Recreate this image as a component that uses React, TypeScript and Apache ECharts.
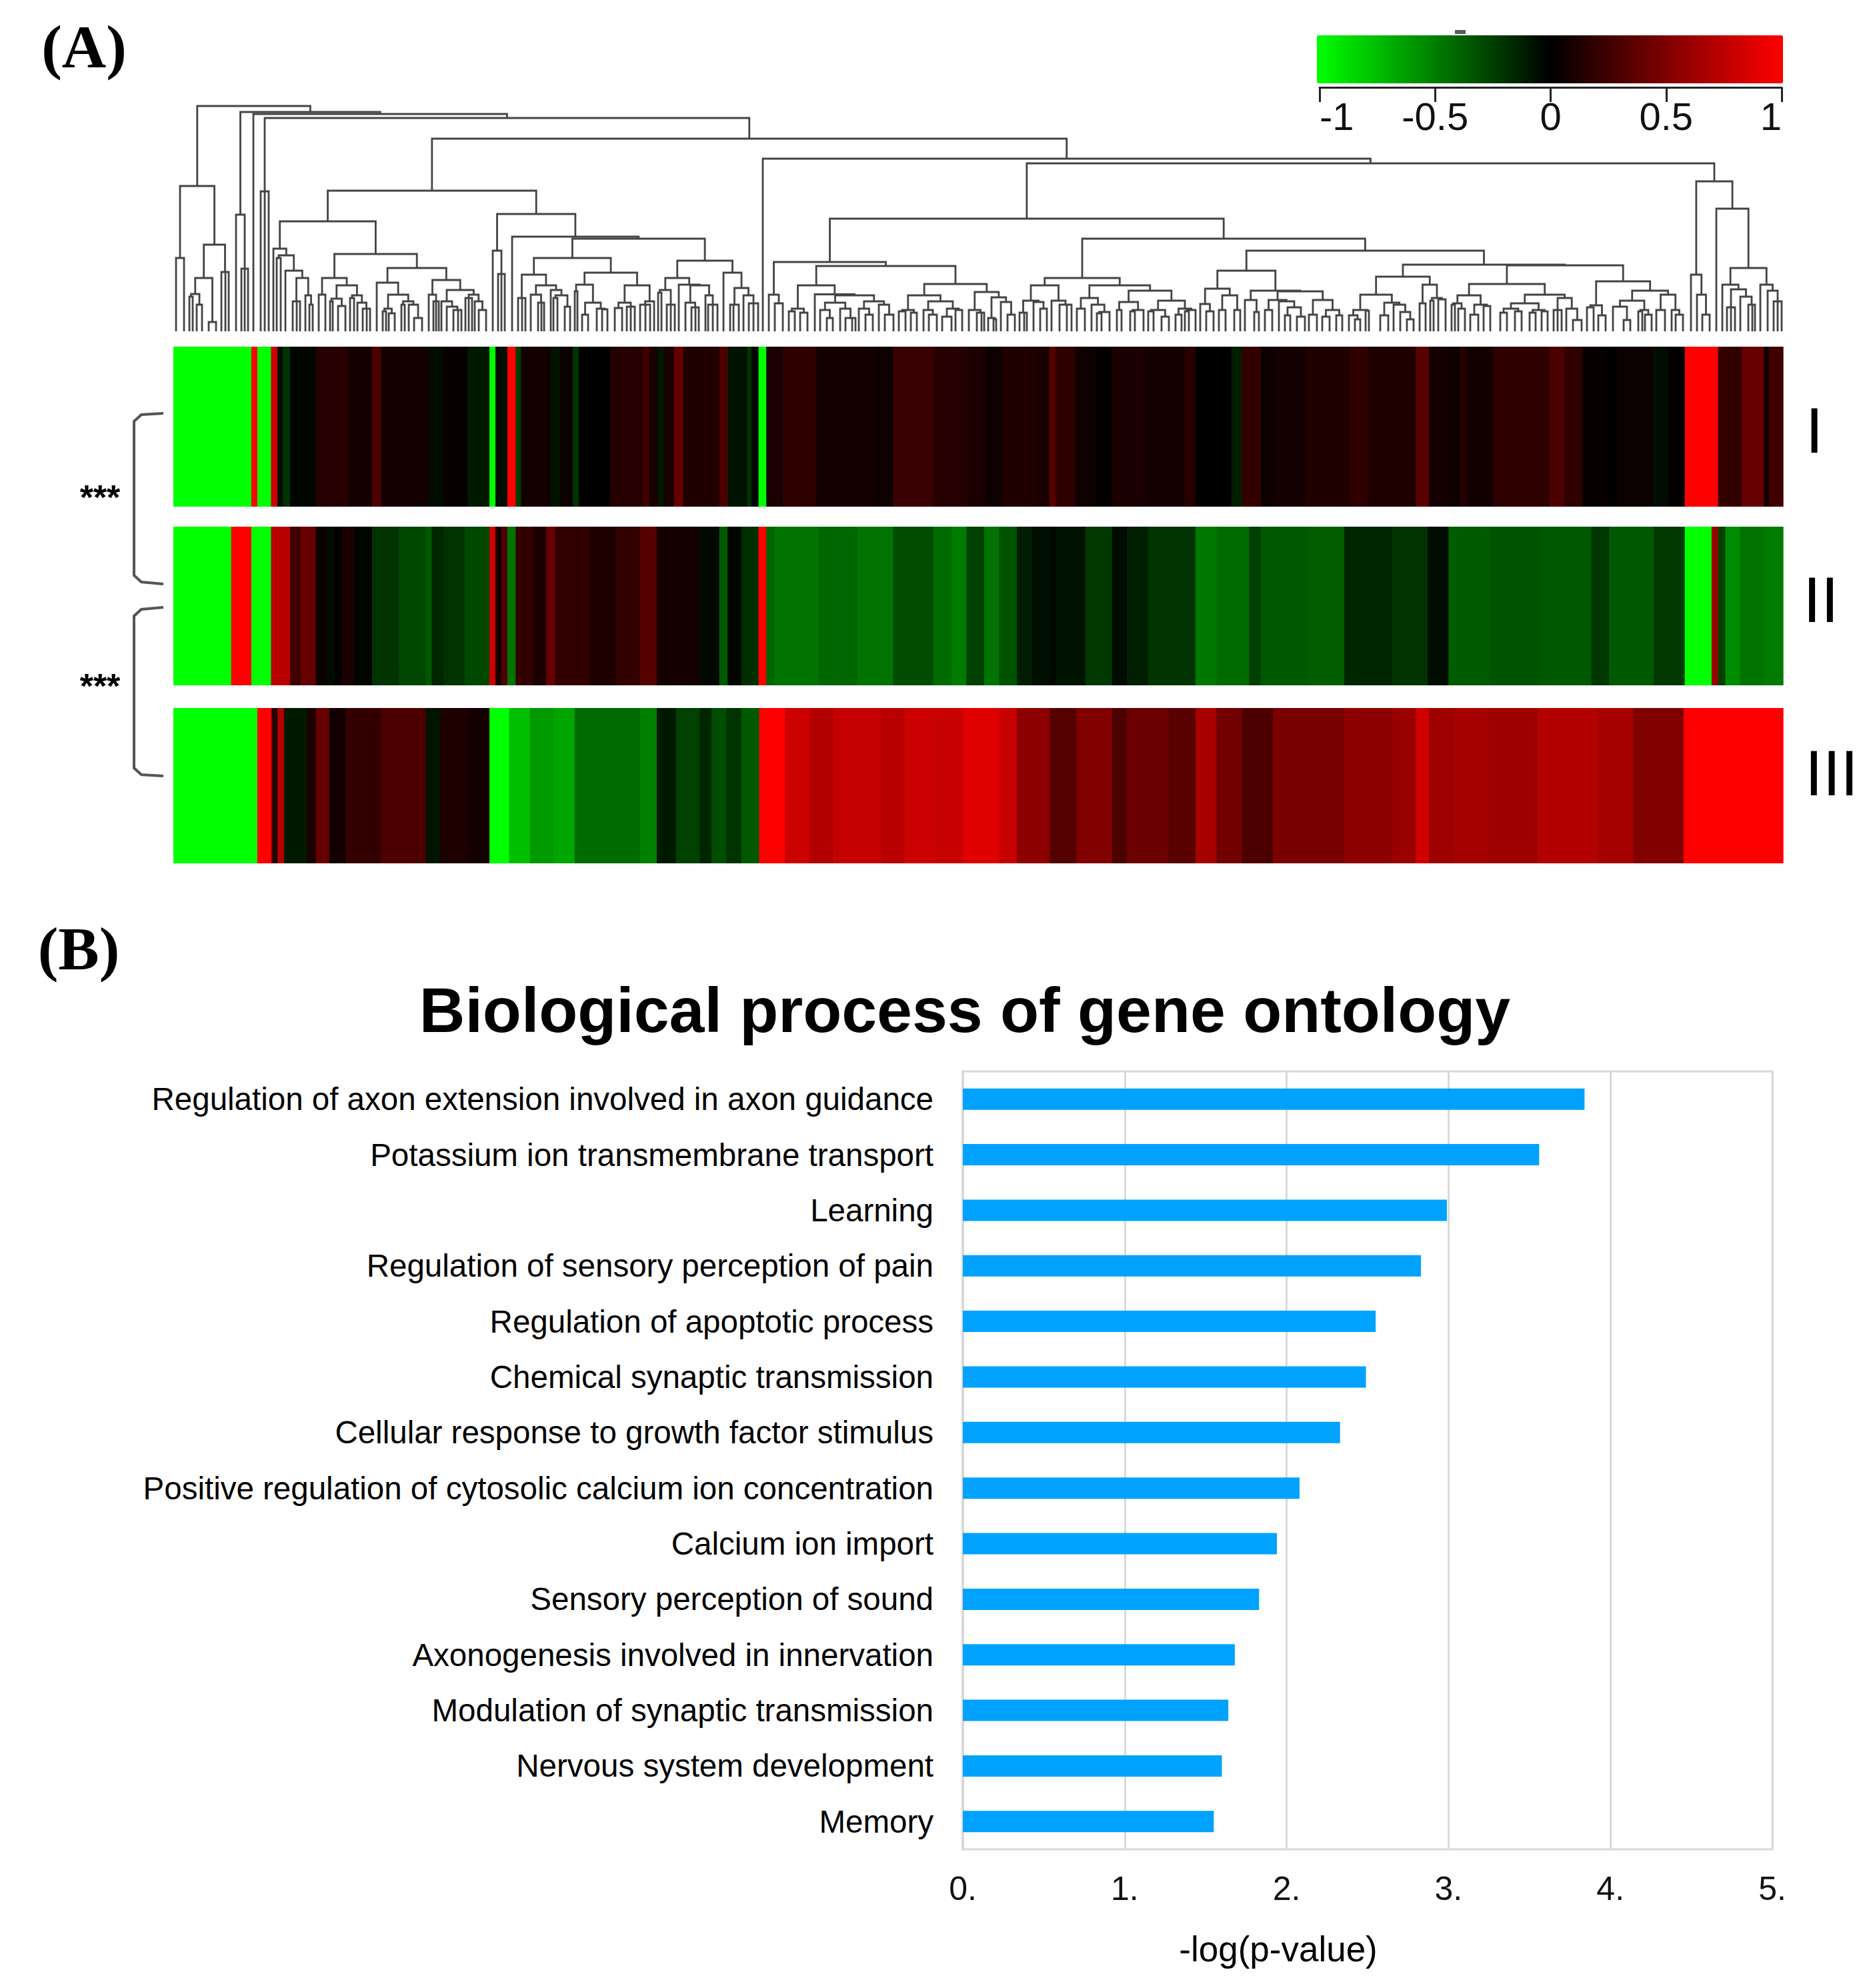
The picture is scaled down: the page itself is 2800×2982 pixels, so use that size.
import React, { useEffect, useRef } from "react";
import * as echarts from "echarts";

const WIDTH = 2800;
const HEIGHT = 2982;
const SANS = '"Liberation Sans", Arial, sans-serif';

// ---- Panel B ----
const processes = [
  "Regulation of axon extension involved in axon guidance",
  "Potassium ion transmembrane transport",
  "Learning",
  "Regulation of sensory perception of pain",
  "Regulation of apoptotic process",
  "Chemical synaptic transmission",
  "Cellular response to growth factor stimulus",
  "Positive regulation of cytosolic calcium ion concentration",
  "Calcium ion import",
  "Sensory perception of sound",
  "Axonogenesis involved in innervation",
  "Modulation of synaptic transmission",
  "Nervous system development",
  "Memory",
];
const logP = [3.84, 3.56, 2.99, 2.83, 2.55, 2.49, 2.33, 2.08, 1.94, 1.83, 1.68, 1.64, 1.6, 1.55];

// ---- Panel A heat map: [end of run on the gene axis, value]; each run starts where the last ended ----
const heatStart = 291;
const heatEnd = 2995;
const rowI = [
  [422,-1],[432,1],[455,-1],[466,.8],[475,-.05],[487,-.2],[530,-.02],[585,.15],[625,.08],[640,.3],[720,.08],[745,-.05],[785,.03],[822,-.1],[832,-1],[852,-.05],[866,1],[875,-.25],[925,.08],[940,-.08],[962,.05],[972,-.2],[1025,0],[1080,.15],[1090,.25],[1105,.1],[1115,-.1],[1132,.1],[1147,.4],[1208,.13],[1222,.3],[1255,-.07],[1262,-.2],[1274,-.03],[1287,-1],[1315,.1],[1370,.18],[1470,.08],[1500,.05],[1568,.22],
  [1623,.15],[1656,.1],[1683,.05],[1738,.13],[1763,.1],[1773,.35],[1806,.18],[1838,.06],[1868,.02],[1928,.1],[1988,.08],[2008,.15],[2068,0],[2086,-.12],[2118,.2],[2140,.05],[2193,.08],[2268,.13],[2298,.18],[2378,.12],[2400,.35],[2433,.08],[2453,.05],[2463,.15],[2508,.07],[2603,.18],[2628,.3],[2658,.18],[2703,.03],[2716,0],[2776,.05],[2803,-.05],[2830,.02],[2886,1],[2926,.2],[2963,.4],[2971,.05],[2995,.25],
];
const rowII = [
  [388,-1],[422,1],[455,-1],[487,.72],[505,.25],[530,.4],[550,.05],[562,-.05],[575,.02],[595,.1],[625,-.02],[670,-.2],[715,-.28],[725,-.35],[745,-.15],[780,-.2],[822,-.28],[832,.8],[842,.1],[852,.3],[866,-.45],[895,.2],[917,.1],[932,.4],[990,.2],[1035,.12],[1075,.2],[1103,.33],[1175,.08],[1208,-.03],[1222,-.35],[1245,-.02],[1274,-.18],[1287,1],[1300,-.4],[1375,-.45],[1440,-.4],[1500,-.45],[1568,-.3],
  [1598,-.42],[1623,-.48],[1653,-.25],[1678,-.45],[1708,-.33],[1733,-.12],[1763,-.06],[1773,-.03],[1823,-.07],[1868,-.22],[1893,-.05],[1928,-.12],[2008,-.2],[2043,-.47],[2098,-.42],[2118,-.25],[2198,-.35],[2258,-.37],[2338,-.15],[2398,-.2],[2433,-.05],[2503,-.36],[2588,-.33],[2673,-.35],[2703,-.22],[2778,-.35],[2830,-.22],[2875,-1],[2886,.6],[2898,-.25],[2923,-.55],[2963,-.45],[2995,-.48],
];
const rowIII = [
  [432,-1],[456,1],[466,.15],[477,.7],[515,-.1],[530,.1],[553,.4],[580,.08],[640,.2],[715,.3],[740,-.08],[785,.12],[822,.08],[855,-1],[890,-.75],[930,-.6],[965,-.65],[1075,-.42],[1103,-.5],[1135,-.1],[1175,-.25],[1195,-.15],[1220,-.3],[1245,-.2],[1275,-.35],[1318,1],[1360,.8],[1400,.7],[1480,.77],[1520,.72],[1568,.8],
  [1618,.78],[1678,.88],[1708,.78],[1763,.55],[1808,.33],[1868,.5],[1893,.3],[1963,.42],[2008,.35],[2043,.65],[2086,.45],[2138,.3],[2258,.48],[2338,.55],[2378,.6],[2400,.82],[2443,.62],[2498,.65],[2583,.62],[2683,.7],[2743,.65],[2828,.5],[2995,1],
];

// ---- Panel A dendrogram: [merge height, ...children]; a bare number is a leaf's place on the gene scale ----
const branchA = [218,[110,264,276],[130,[80,[56,[52,284,289],[40,295,303]],[14,313,324]],[89,332,338,343]]];
const branchC124 = [124,410,[114,[110,415,421],[91,428,[80,[45,439,445,450],[54,458,[40,464,469]]]]]];
const branchD80 = [80,[55,478,488],[69,[49,[45,495,499],[38,507,518]],[54,[50,525,531],[43,536,[34,544,550,555]]]]];
const branchE73 = [73,565,[55,[34,[30,574,579],[27,583,592]],[45,[40,602,607],[40,613,[20,621,633]]]]];
const branchE77 = [77,[55,643,[45,650,654,658]],[62,[45,662,[37,670,[32,680,687,692]]],[55,[50,698,703,708],[45,712,[32,718,729]]]]];
const branchG85 = [85,[50,777,783,788],[69,[55,796,[43,807,812,816]],[62,826,[54,[50,830,836],[37,847,855]]]]];
const branchG88 = [88,[70,[60,862,866],[43,[25,873,882],[34,895,[33,903,911]]]],[69,[43,[35,922,933],[37,940,946,952]],[45,[40,960,968,975],981]]];
const branchH80 = [80,[62,[58,987,992],[40,1000,1006,1012]],[70,1018,[69,[43,1028,[36,1037,1043,1048]],[54,1058,[40,1062,1069,1076]]]]];
const branchH88 = [88,1085,[65,[40,1095,1100,1108],[54,1115,[42,1123,1130,1137]]]];
const branchLeft = [211,[165,branchC124,[116,branchD80,[95,branchE73,branchE77]]],[176,[121,739,[86,747,752,757]],[142,768,[139,[110,branchG85,branchG88],[106,branchH80,branchH88]]]]];
const branchW = [43,[32,1230,[20,1240,1249]],[34,1260,[20,1268,1278,1283]]];
const branchV = [45,[34,1288,[25,1298,1309]],[40,1318,[25,1327,1340]]];
const branchJ69 = [69,[34,[30,1183,1192],[28,1200,1211]],[55.5,1222,[54,branchW,branchV]]];
const branchJ71 = [71,[54,[32,[30,1348,1358],[28,1366,1375]],[45,[32,1385,[25,1393,1405]],[34,[22,1413,1427],[32,1433,1443]]]],[59,[32,1453,[28,1465,1472,1476]],[51,[20,1482,[18,1490,1494]],[44,1501,[25,1511,1522]]]]];
const branchM69a = [69,[46,[28,1529,1536,1540],[44,1550,[34,1560,1570]]],[46,1577,[40,1589,1600,1607]]];
const branchT = [61,[44,[32,1675,1682],[32,[30,1695,1702],1715]],[46,[32,[30,1722,1730],[22,1742,1753]],[34,[25,1763,1772],[32,[30,1777,1783],1793]]]];
const branchM69b = [69,[50,[34,1615,1627],[40,1637,[29,[27,1645,1652],1664]]],branchT];
const branchK = [60,[47,[32,1897,1908],[45,1918,[36,[24,1927,1935],[22,1945,1957]]]],[47,[25,1963,1975],[32,[22,1983,1994],[24,2004,2013]]]];
const branchO91 = [91,[64,[41,1800,[30,1809,1820]],[54,[32,1828,1838],[32,1851,1860]]],[61,[47,1867,[29,1881,1888]],branchK]];
const branchU82 = [82,[55,[32,[24,2023,[18,2032,2040]],[31,2048,2053]],[43,[24,2070,2082],[40,2090,[29,2100,[18,2110,2120]]]]],[70,[42,2129,2138],[50,[46,2145,2150],[48,2157,2168]]]];
const branchV71 = [71,[54,[42,[40,2177,2182],[34,2187,2197]],[40,[25,2205,2217],[38,2225,2235]]],[55,[42,[34,[28,2250,2260],[30,2272,2282]],[32,[28,2294,2303],[30,2312,2321]]],[50,[32,2330,2336,2342],[34,2349,[17,2359,2372]]]]];
const branchV75 = [75,[39,[36,2380,2390],[24,2397,2408]],[61,[46,[37,2419,[17,2435,2445]],[32,[30,2457,2463],[25,2467,2477]]],[55,[32,2484,2497],[32,2507,[25,2513,2524]]]]];
const branchN6R = [225,[85,2536,[55,2545,[25,2553,2564]]],[184,2574,[95,[70,2583,[63,[36,2590,2596,2602],[52,2610,[40,2622,2628,2632]]]],[70,2640,[61,2651,[45,2660,2666,2672]]]]]];
const branchN6L = [169,[104,[55,1153,[42,1162,1174]],[98,branchJ69,branchJ71]],[139,[80,branchM69a,branchM69b],[121,branchO91,[100,branchU82,[99,branchV71,branchV75]]]]];
const dendrogram = [338,branchA,[329,[175,354,[94,362,367,372]],[326,380,[320,[210,391,397,403],[289,branchLeft,[259,1144,[252,branchN6L,branchN6R]]]]]]];

const colorTicks = [-1, -0.5, 0, 0.5, 1];

function flattenTree(tree: any) {
  const links: number[][] = [];
  const walk = (node: any): { x: number; h: number } => {
    if (typeof node === "number") return { x: node, h: 0 };
    const [h, ...kids] = node;
    const placed = kids.map(walk);
    const first = placed[0];
    const last = placed[placed.length - 1];
    links.push([first.x, last.x, h, first.h, last.h]);
    placed.slice(1, -1).forEach((p: any) => links.push([p.x, p.x, h, p.h, p.h]));
    return { x: (first.x + last.x) / 2, h };
  };
  walk(tree);
  return links;
}

function runs(row: number[][]) {
  let start = heatStart;
  return row.map(([end, value]) => {
    const r = [start, end, value];
    start = end;
    return r;
  });
}

const renderCell = (params: any, api: any) => {
  const a = api.coord([api.value(0), 0]);
  const b = api.coord([api.value(1), 1]);
  return {
    type: "rect",
    shape: { x: a[0], y: b[1], width: b[0] - a[0] + 0.7, height: a[1] - b[1] },
    style: { fill: api.visual("color"), stroke: null },
  };
};

const renderLink = (params: any, api: any) => {
  const x1 = api.value(0);
  const x2 = api.value(1);
  const h = api.value(2);
  const pts = [[x1, api.value(3)], [x1, h], [x2, h], [x2, api.value(4)]].map((p) => api.coord(p));
  return {
    type: "polyline",
    shape: { points: pts },
    style: { stroke: "#444", lineWidth: 2.8, fill: null },
  };
};

function heatAxes(count: number) {
  return {
    x: Array.from({ length: count }, (_, i) => ({
      type: "value", gridIndex: i, min: heatStart, max: heatEnd, show: false,
    })),
    y: Array.from({ length: count }, (_, i) => ({
      type: "value", gridIndex: i, min: 0, max: 1, show: false,
    })),
  };
}

function label(text: string, x: number, y: number, font: string) {
  return {
    type: "text", x, y, silent: true,
    style: { text, font, fill: "#000", align: "center", verticalAlign: "middle" },
  };
}

export default function App() {
  const ref = useRef<HTMLDivElement>(null);
  useEffect(() => {
    document.body.style.margin = "0";
    const chart = echarts.init(ref.current!, undefined, { renderer: "svg" });
    const heat = heatAxes(3);
    chart.setOption({
      animation: false,
      backgroundColor: "#fff",
      grid: [
        { left: 260, width: 2414, top: 520, height: 240 },
        { left: 260, width: 2414, top: 790, height: 238 },
        { left: 260, width: 2414, top: 1062, height: 233 },
        { left: 260, width: 2414, top: 157, height: 340 },
        { left: 1979, width: 693, top: 53, height: 78 },
        {
          left: 1444, width: 1214, top: 1607, height: 1167,
          show: true, borderColor: "#d9d9d9", borderWidth: 3, backgroundColor: "#fff",
        },
      ],
      xAxis: [
        ...heat.x,
        { type: "value", gridIndex: 3, min: 260, max: 2674, show: false },
        {
          type: "value", gridIndex: 4, min: -1, max: 1, interval: 0.5,
          splitLine: { show: false },
          axisLine: { show: true, onZero: false, lineStyle: { color: "#222", width: 3 } },
          axisTick: { show: true, length: 22, lineStyle: { color: "#222", width: 3 } },
          axisLabel: {
            show: true, margin: 14, fontSize: 58, fontFamily: SANS, color: "#111",
            alignMinLabel: "left", alignMaxLabel: "right",
            formatter: (v: number) => (colorTicks.includes(v) ? String(v) : ""),
          },
        },
        {
          type: "value", gridIndex: 5, min: 0, max: 5, interval: 1,
          splitLine: { show: true, lineStyle: { color: "#d9d9d9", width: 3 } },
          axisLine: { show: false }, axisTick: { show: false },
          axisLabel: {
            margin: 34, fontSize: 50, fontFamily: SANS, color: "#111",
            formatter: (v: number) => `${v}.`,
          },
        },
      ],
      yAxis: [
        ...heat.y,
        { type: "value", gridIndex: 3, min: 0, max: 340, show: false },
        { type: "value", gridIndex: 4, min: 0, max: 1, show: false },
        {
          type: "category", gridIndex: 5, data: processes, inverse: true,
          axisLine: { show: true, lineStyle: { color: "#d9d9d9", width: 4 } },
          axisTick: { show: false },
          axisLabel: { margin: 44, fontSize: 47.5, fontFamily: SANS, color: "#000" },
        },
      ],
      visualMap: {
        type: "continuous", min: -1, max: 1, dimension: 2, seriesIndex: [0, 1, 2],
        orient: "horizontal", left: 1975, top: 53, padding: 0,
        itemWidth: 72, itemHeight: 699,
        inRange: { color: ["#00ff00", "#000000", "#ff0000"] },
        calculable: false, hoverLink: false, silent: true,
      },
      series: [
        ...[rowI, rowII, rowIII].map((row, i) => ({
          type: "custom", xAxisIndex: i, yAxisIndex: i, renderItem: renderCell,
          data: runs(row), encode: { x: [0, 1] }, silent: true,
        })),
        {
          type: "custom", xAxisIndex: 3, yAxisIndex: 3, renderItem: renderLink,
          data: flattenTree(dendrogram), encode: { x: [0, 1], y: [2, 3, 4] }, silent: true,
        },
        {
          type: "bar", xAxisIndex: 5, yAxisIndex: 5, data: logP, barWidth: 32,
          itemStyle: { color: "#00a2ff" }, silent: true,
        },
      ],
      graphic: [
        label("(A)", 126, 70, 'bold 92px "Liberation Serif", serif'),
        label("(B)", 118, 1423, 'bold 92px "Liberation Serif", serif'),
        label("Biological process of gene ontology", 1447, 1515, `bold 95px ${SANS}`),
        label("-log(p-value)", 1917, 2923, `53px ${SANS}`),
        label("I", 2721, 645, `96px ${SANS}`),
        label("II", 2731, 899, `96px ${SANS}`),
        label("III", 2747, 1159, `96px ${SANS}`),
        label("***", 150, 746, `bold 52px ${SANS}`),
        label("***", 150, 1029, `bold 52px ${SANS}`),
        {
          type: "polyline", silent: true,
          shape: { points: [[245, 620], [212, 622], [201, 632], [201, 863], [212, 873], [245, 876]] },
          style: { stroke: "#555", lineWidth: 4, fill: null },
        },
        {
          type: "polyline", silent: true,
          shape: { points: [[245, 911], [212, 914], [201, 924], [201, 1152], [212, 1162], [245, 1164]] },
          style: { stroke: "#555", lineWidth: 4, fill: null },
        },
        {
          type: "rect", silent: true,
          shape: { x: 2182, y: 45, width: 16, height: 6 },
          style: { fill: "#5a5a66" },
        },
      ],
    });
    return () => chart.dispose();
  }, []);
  return <div ref={ref} style={{ width: WIDTH, height: HEIGHT }} />;
}
